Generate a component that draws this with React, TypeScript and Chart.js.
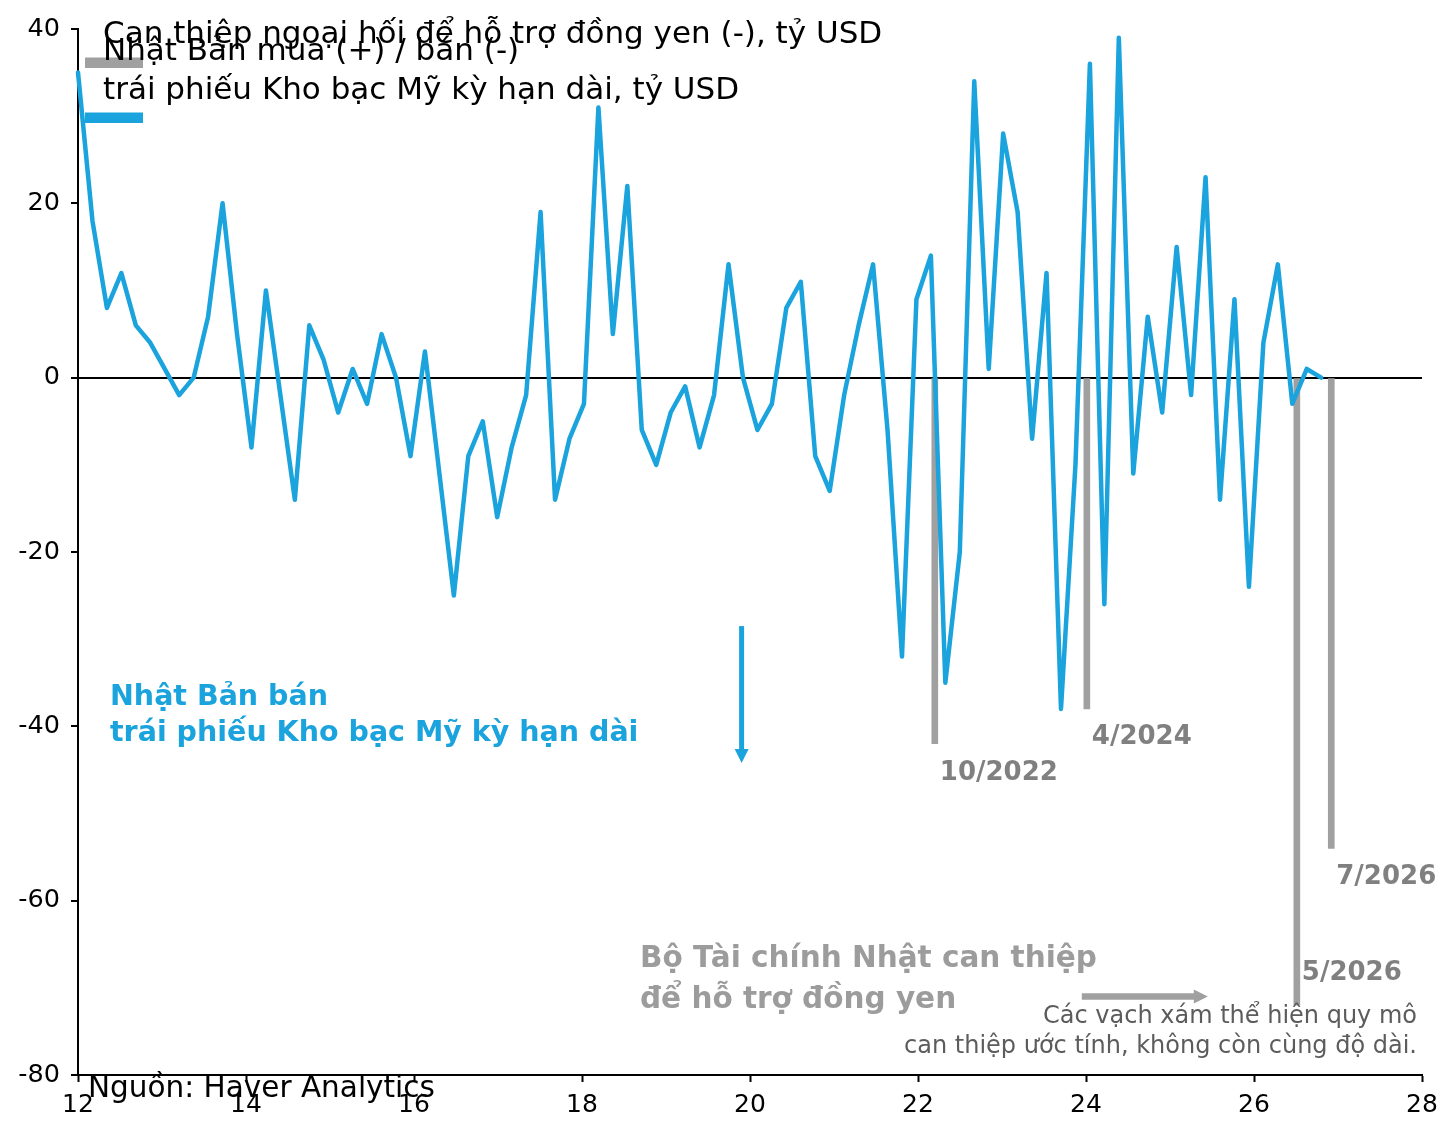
import { useEffect, useRef } from "react"
import { Chart, registerables } from "chart.js"

Chart.register(...registerables)

// Japan net purchases (+) / sales (-) of long-term US Treasuries, bn USD
// evenly spaced observations from X_START to X_END (years, 20xx)
const X_START = 12
const X_END = 26.8
const TREASURY_FLOWS = [
  35, 18, 8, 12, 6, 4, 1, -2, 0, 7,
  20, 5, -8, 10, -2, -14, 6, 2, -4, 1,
  -3, 5, 0, -9, 3, -11, -25, -9, -5, -16,
  -8, -2, 19, -14, -7, -3, 31, 5, 22, -6,
  -10, -4, -1, -8, -2, 13, 0, -6, -3, 8,
  11, -9, -13, -2, 6, 13, -6, -32, 9, 14,
  -35, -20, 34, 1, 28, 19, -7, 12, -38, -10,
  36, -26, 39, -11, 7, -4, 15, -2, 23, -14,
  9, -24, 4, 13, -3, 1, 0,
]

// MoF yen-support interventions (grey bars), bn USD
const INTERVENTION_DATES = [22.2, 24.01, 26.51, 26.92]
const INTERVENTION_SIZE = [-42, -38, -72, -54]
const INTERVENTION_LABELS = ["10/2022", "4/2024", "5/2026", "7/2026"]
const INTERVENTION_LABEL_Y = [-45.4, -41.2, -68.3, -57.3]

const X_TICKS = [12, 14, 16, 18, 20, 22, 24, 26, 28]
const Y_TICKS = [-80, -60, -40, -20, 0, 20, 40]

const BLUE = "#1aa3dd"
const GREY = "#a0a0a0"
const FONT = '"DejaVu Sans", sans-serif'

const annotations = {
  id: "annotations",
  afterDraw(chart: Chart) {
    const ctx = chart.ctx
    const xs = chart.scales.x
    const ys = chart.scales.y
    const px = (v: number) => xs.getPixelForValue(v)
    const py = (v: number) => ys.getPixelForValue(v)

    ctx.save()

    // legend
    ctx.fillStyle = GREY
    ctx.fillRect(85, 57.5, 58, 10.5)
    ctx.fillStyle = BLUE
    ctx.fillRect(85, 112.5, 58, 10.5)
    ctx.fillStyle = "#000"
    ctx.font = `31px ${FONT}`
    ctx.textBaseline = "alphabetic"
    ctx.textAlign = "left"
    ctx.fillText("Can thiệp ngoại hối để hỗ trợ đồng yen (-), tỷ USD", 103, 43)
    ctx.fillText("Nhật Bản mua (+) / bán (-)", 103, 59.5)
    ctx.fillText("trái phiếu Kho bạc Mỹ kỳ hạn dài, tỷ USD", 103, 98.5)

    // blue note + arrow
    ctx.fillStyle = BLUE
    ctx.font = `bold 28.5px ${FONT}`
    ctx.fillText("Nhật Bản bán", 110, 705)
    ctx.fillText("trái phiếu Kho bạc Mỹ kỳ hạn dài", 110, 741)

    const ax = px(19.9)
    const aTop = py(-28.5)
    const aTip = py(-44.2)
    ctx.strokeStyle = BLUE
    ctx.lineWidth = 5
    ctx.beginPath()
    ctx.moveTo(ax, aTop)
    ctx.lineTo(ax, aTip - 12)
    ctx.stroke()
    ctx.beginPath()
    ctx.moveTo(ax - 7, aTip - 14)
    ctx.lineTo(ax + 7, aTip - 14)
    ctx.lineTo(ax, aTip)
    ctx.closePath()
    ctx.fill()

    // grey note + arrow
    ctx.fillStyle = "#9c9c9c"
    ctx.font = `bold 29.5px ${FONT}`
    ctx.fillText("Bộ Tài chính Nhật can thiệp", 640, 967)
    ctx.fillText("để hỗ trợ đồng yen", 640, 1008)

    const gy = py(-71)
    const gLeft = px(23.95)
    const gTip = px(25.45)
    ctx.fillStyle = GREY
    ctx.strokeStyle = GREY
    ctx.lineWidth = 6.5
    ctx.beginPath()
    ctx.moveTo(gLeft, gy)
    ctx.lineTo(gTip - 12, gy)
    ctx.stroke()
    ctx.beginPath()
    ctx.moveTo(gTip - 14, gy - 7)
    ctx.lineTo(gTip - 14, gy + 7)
    ctx.lineTo(gTip, gy)
    ctx.closePath()
    ctx.fill()

    // intervention date labels
    ctx.fillStyle = "#808080"
    ctx.font = `bold 26px ${FONT}`
    ctx.textBaseline = "middle"
    INTERVENTION_LABELS.forEach((label, i) => {
      ctx.fillText(label, px(INTERVENTION_DATES[i]) + 5, py(INTERVENTION_LABEL_Y[i]))
    })

    // footnote
    ctx.fillStyle = "#5c5c5c"
    ctx.font = `24px ${FONT}`
    ctx.textBaseline = "alphabetic"
    ctx.textAlign = "right"
    ctx.fillText("Các vạch xám thể hiện quy mô", 1417, 1022.5)
    ctx.fillText("can thiệp ước tính, không còn cùng độ dài.", 1417, 1052.5)

    // source
    ctx.fillStyle = "#000"
    ctx.font = `29.5px ${FONT}`
    ctx.textAlign = "left"
    ctx.fillText("Nguồn: Haver Analytics", 88, 1097)

    ctx.restore()
  },
}

export default function App() {
  const canvasRef = useRef<HTMLCanvasElement>(null)

  useEffect(() => {
    if (!canvasRef.current) return

    const step = (X_END - X_START) / (TREASURY_FLOWS.length - 1)

    const chart = new Chart(canvasRef.current, {
      type: "line",
      data: {
        datasets: [
          {
            type: "line",
            label: "trái phiếu Kho bạc Mỹ kỳ hạn dài",
            data: TREASURY_FLOWS.map((v, i) => ({ x: X_START + i * step, y: v })),
            borderColor: BLUE,
            borderWidth: 4.5,
            pointRadius: 0,
            tension: 0,
            borderJoinStyle: "round",
            borderCapStyle: "round",
            clip: false,
            order: 0,
          },
          {
            type: "bar",
            label: "Can thiệp ngoại hối",
            data: INTERVENTION_DATES.map((x, i) => ({ x, y: INTERVENTION_SIZE[i] })),
            backgroundColor: GREY,
            barThickness: 6,
            grouped: false,
            order: 1,
          },
        ],
      },
      plugins: [annotations],
      options: {
        animation: false,
        responsive: true,
        maintainAspectRatio: false,
        layout: { padding: { top: 29, right: 34, left: 0, bottom: 0 } },
        plugins: {
          legend: { display: false },
          tooltip: { enabled: false },
        },
        scales: {
          x: {
            type: "linear",
            min: 12,
            max: 28,
            offset: false,
            afterBuildTicks: (scale: any) => {
              scale.ticks = X_TICKS.map((value) => ({ value }))
            },
            afterFit: (scale: any) => {
              scale.height = 58
            },
            grid: {
              offset: false,
              drawOnChartArea: false,
              drawTicks: true,
              tickLength: 7,
              tickWidth: 2,
              tickColor: "#000",
            },
            border: { display: true, color: "#000", width: 2 },
            ticks: {
              autoSkip: false,
              maxRotation: 0,
              padding: 8,
              color: "#000",
              font: { family: FONT, size: 25 },
            },
          },
          y: {
            type: "linear",
            min: -80,
            max: 40,
            afterBuildTicks: (scale: any) => {
              scale.ticks = Y_TICKS.map((value) => ({ value }))
            },
            afterFit: (scale: any) => {
              scale.width = 78
            },
            grid: {
              offset: false,
              drawOnChartArea: true,
              drawTicks: true,
              tickLength: 7,
              tickWidth: 2,
              tickColor: "#000",
              lineWidth: 2,
              color: (c: any) => (c.tick && c.tick.value === 0 ? "#000" : "rgba(0,0,0,0)"),
            },
            border: { display: true, color: "#000", width: 2 },
            ticks: {
              padding: 11,
              color: "#000",
              font: { family: FONT, size: 25.5 },
            },
          },
        },
      },
    })

    return () => chart.destroy()
  }, [])

  return (
    <div style={{ position: "absolute", left: 0, top: 0, width: 1456, height: 1133, background: "#fff" }}>
      <canvas ref={canvasRef} />
    </div>
  )
}
